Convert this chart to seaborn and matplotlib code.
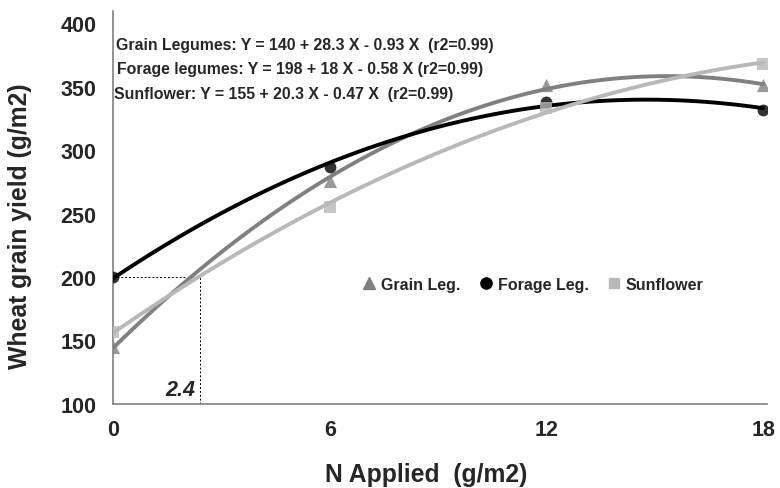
import seaborn as sns
import matplotlib.pyplot as plt
import pandas as pd
from matplotlib.lines import Line2D

# N applied (g/m2)
n_applied = [0, 6, 12, 18]

# wheat grain yield (g/m2) per preceding crop
grain_leg = [145, 276, 351, 351]
forage_leg = [200, 287, 338, 332]
sunflower = [157, 255, 333, 368]

series_names = ['Grain Leg.', 'Forage Leg.', 'Sunflower']
equations = [
    'Grain Legumes: Y = 140 + 28.3 X - 0.93 X  (r2=0.99)',
    'Forage legumes: Y = 198 + 18 X - 0.58 X (r2=0.99)',
    'Sunflower: Y = 155 + 20.3 X - 0.47 X  (r2=0.99)',
]
cross_x = 2.4
cross_y = 200

df = pd.DataFrame({'N': n_applied * 3,
                   'yield': grain_leg + forage_leg + sunflower,
                   'crop': [s for s in series_names for _ in n_applied]})

sns.set_style('white')
plt.rcParams['font.family'] = ['Liberation Sans', 'DejaVu Sans']
plt.rcParams['font.weight'] = 'bold'

fig = plt.figure(figsize=(7.8, 4.89), dpi=100)
ax = fig.add_axes([0.145, 0.172, 0.838, 0.803])

styles = {'Grain Leg.': ('#808080', '^', 9.5),
          'Forage Leg.': ('black', 'o', 8.5),
          'Sunflower': ('#b8b8b8', 's', 8)}

handles = []
for name in series_names:
    color, marker, ms = styles[name]
    sub = df[df['crop'] == name]
    # quadratic trend line fitted by seaborn
    sns.regplot(data=sub, x='N', y='yield', order=2, ci=None, ax=ax,
                color=color, marker=marker,
                scatter_kws={'s': ms ** 2, 'zorder': 4, 'linewidths': 0},
                line_kws={'lw': 2.8, 'zorder': 3})
    handles.append(Line2D([], [], ls='none', marker=marker, color=color,
                          markersize=ms * 0.95, label=name))

# dashed guides at the crossing point
ax.plot([0, cross_x], [cross_y, cross_y], ls=(0, (2, 2)), lw=0.7, color='black')
ax.plot([cross_x, cross_x], [100, cross_y], ls=(0, (2, 2)), lw=0.7, color='black')
ax.text(cross_x - 0.12, 103, str(cross_x), ha='right', va='bottom',
        fontsize=15.5, fontweight='bold', style='italic')

eq_x = [0.08, 0.12, 0.03]
for i, eq in enumerate(equations):
    ax.text(eq_x[i], 383.5 - i * 19.3, eq, fontsize=11.4,
            fontweight='bold', va='center')

ax.set_xlim(0, 18.1)
ax.set_ylim(100, 409.5)
ax.set_xticks([0, 6, 12, 18])
ax.set_yticks([100, 150, 200, 250, 300, 350, 400])
ax.tick_params(axis='both', length=0, labelsize=15.5)
ax.tick_params(axis='y', pad=12)
ax.tick_params(axis='x', pad=11)
for t in ax.get_xticklabels() + ax.get_yticklabels():
    t.set_fontweight('bold')

ax.set_xlabel('N Applied  (g/m2)', fontsize=17.8, fontweight='bold')
ax.set_ylabel('Wheat grain yield (g/m2)', fontsize=17.8, fontweight='bold')
ax.xaxis.set_label_coords(0.479, -0.148)
ax.yaxis.set_label_coords(-0.124, 0.455)

for side in ['top', 'right']:
    ax.spines[side].set_visible(False)
for side in ['left', 'bottom']:
    ax.spines[side].set_color('#808080')
    ax.spines[side].set_linewidth(1.2)

ax.legend(handles=handles, loc='center', bbox_to_anchor=(0.64, 0.305),
          ncol=3, frameon=False, prop={'weight': 'bold', 'size': 11.5},
          handletextpad=0.15, columnspacing=1.0, handlelength=1.2)

fig.savefig('out.png', dpi=100)
plt.close()
